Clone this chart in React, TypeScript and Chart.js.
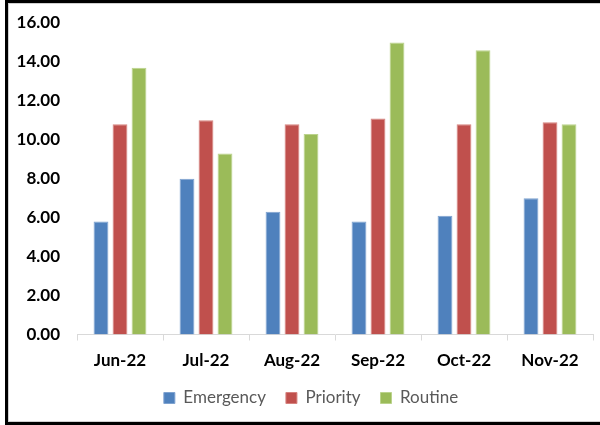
import React, { useEffect, useRef } from "react";
import { Chart, registerables } from "chart.js";

Chart.register(...registerables);

const categories = ["Jun-22", "Jul-22", "Aug-22", "Sep-22", "Oct-22", "Nov-22"];
const emergency = [5.8, 8.0, 6.3, 5.8, 6.1, 7.0];
const priority = [10.8, 11.0, 10.8, 11.1, 10.8, 10.9];
const routine = [13.7, 9.3, 10.3, 15.0, 14.6, 10.8];
const seriesNames = ["Emergency", "Priority", "Routine"];
const yMin = 0;
const yMax = 16;
const yStep = 2;

const widenYLabelArea = {
  id: "widenYLabelArea",
  afterLayout(chart: any) {
    const y = chart.scales && chart.scales.y;
    if (y) y.left = 0;
  },
};

export default function App() {
  const canvasRef = useRef<HTMLCanvasElement | null>(null);

  useEffect(() => {
    if (!canvasRef.current) return;
    const font = "Lato, 'Open Sans', sans-serif";
    const chart = new Chart(canvasRef.current, {
      type: "bar",
      data: {
        labels: categories,
        datasets: [
          {
            label: seriesNames[0],
            data: emergency,
            backgroundColor: "#4F81BD",
            borderColor: "#7FA3D0",
            borderWidth: 1,
          },
          {
            label: seriesNames[1],
            data: priority,
            backgroundColor: "#C0504D",
            borderColor: "#D6837F",
            borderWidth: 1,
          },
          {
            label: seriesNames[2],
            data: routine,
            backgroundColor: "#9BBB59",
            borderColor: "#BBD38C",
            borderWidth: 1,
          },
        ],
      },
      plugins: [widenYLabelArea],
      options: {
        animation: false,
        responsive: true,
        maintainAspectRatio: false,
        datasets: {
          bar: {
            categoryPercentage: 0.663,
            barPercentage: 0.78,
          },
        },
        layout: {
          padding: { left: 29, right: 7, top: 23, bottom: 8.5 },
        },
        plugins: {
          tooltip: { enabled: false },
          title: { display: false },
          legend: {
            display: true,
            position: "bottom",
            labels: {
              boxWidth: 11,
              boxHeight: 11,
              padding: 20,
              color: "#595959",
              font: { family: font, size: 17 },
            },
          },
        },
        scales: {
          x: {
            grid: {
              display: true,
              drawOnChartArea: false,
              drawTicks: true,
              tickLength: 6,
              color: "#D9D9D9",
              offset: true,
            },
            border: { display: true, color: "#D9D9D9", width: 1 },
            ticks: {
              color: "#000000",
              padding: 10,
              font: { family: font, size: 17, weight: "bold" },
              maxRotation: 0,
            },
            afterFit: (scale: any) => {
              scale.height = 35;
            },
          },
          y: {
            min: yMin,
            max: yMax,
            grid: { display: false, drawTicks: false },
            border: { display: false },
            ticks: {
              stepSize: yStep,
              color: "#000000",
              padding: 17,
              font: { family: font, size: 17, weight: "bold" },
              callback: (v: any) => Number(v).toFixed(2),
            },
            afterFit: (scale: any) => {
              scale.width = 48;
              scale.paddingTop = 0;
              scale.paddingBottom = 0;
            },
          },
        },
      },
    });
    return () => chart.destroy();
  }, []);

  return (
    <div>
      <div
        style={{
          position: "fixed",
          left: 0,
          top: 0,
          width: 600,
          height: 425,
          background: "#ffffff",
        }}
      >
        <canvas ref={canvasRef} />
      </div>
      <div
        style={{
          position: "fixed",
          left: 5,
          top: 0,
          width: 620,
          height: 425,
          boxSizing: "border-box",
          borderTop: "3px solid #000",
          borderLeft: "3px solid #000",
          borderBottom: "3px solid #000",
          boxShadow: "inset 0 0 0 1px #D0D0D0",
          pointerEvents: "none",
        }}
      />
    </div>
  );
}
